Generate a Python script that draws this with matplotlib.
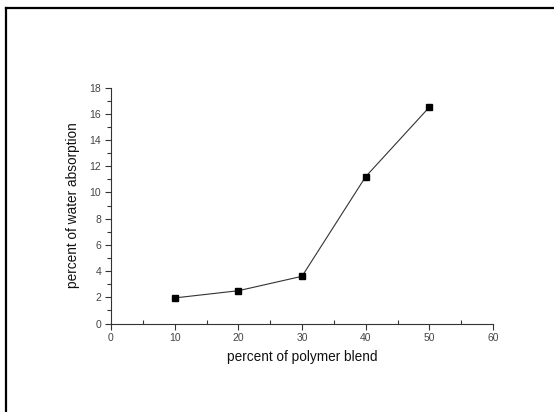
import numpy as np
import matplotlib
matplotlib.use("Agg")
import matplotlib.pyplot as plt
from matplotlib.lines import Line2D
from matplotlib.ticker import MultipleLocator

# datos
blend = [10, 20, 30, 40, 50]
absorption = [1.95, 2.5, 3.6, 11.2, 16.5]

plt.rcParams['font.family'] = ['Liberation Sans', 'DejaVu Sans']

fig = plt.figure(figsize=(5.54, 4.12), dpi=100)
ax = fig.add_axes([111 / 554, 1 - 323.5 / 412, 382 / 554, 236 / 412])

ax.plot(blend, absorption, '-', color='#333333', linewidth=0.8)
ax.plot(blend, absorption, 's', color='black', markersize=4)

ax.set_xlim(0, 60)
ax.set_ylim(0, 18)
ax.xaxis.set_major_locator(MultipleLocator(10))
ax.xaxis.set_minor_locator(MultipleLocator(5))
ax.yaxis.set_major_locator(MultipleLocator(2))
ax.yaxis.set_minor_locator(MultipleLocator(1))

for s in ['top', 'right']:
    ax.spines[s].set_visible(False)
for s in ['left', 'bottom']:
    ax.spines[s].set_color('#333333')
    ax.spines[s].set_linewidth(0.8)

ax.tick_params(axis='both', which='major', length=4, width=0.8, color='#333333',
               labelsize=7.5, labelcolor='#444444', direction='out', pad=3)
ax.tick_params(axis='x', which='minor', length=3, width=0.8, color='#333333', direction='in')
ax.tick_params(axis='y', which='minor', length=3, width=0.8, color='#333333', direction='out')

ax.set_xlabel('percent of polymer blend', fontsize=9.8, color='#111111', labelpad=5)
ax.set_ylabel('percent of water absorption', fontsize=9.8, color='#111111', labelpad=7)

# marco negro alrededor de la imagen
W, H = 554.0, 412.0
fig.add_artist(Line2D([5.5 / W, 5.5 / W], [0, 1 - 8 / H], transform=fig.transFigure,
                      color='black', linewidth=1.6))
fig.add_artist(Line2D([5.5 / W, 1], [1 - 8 / H, 1 - 8 / H], transform=fig.transFigure,
                      color='black', linewidth=1.6))

fig.savefig('out.png', dpi=100)
